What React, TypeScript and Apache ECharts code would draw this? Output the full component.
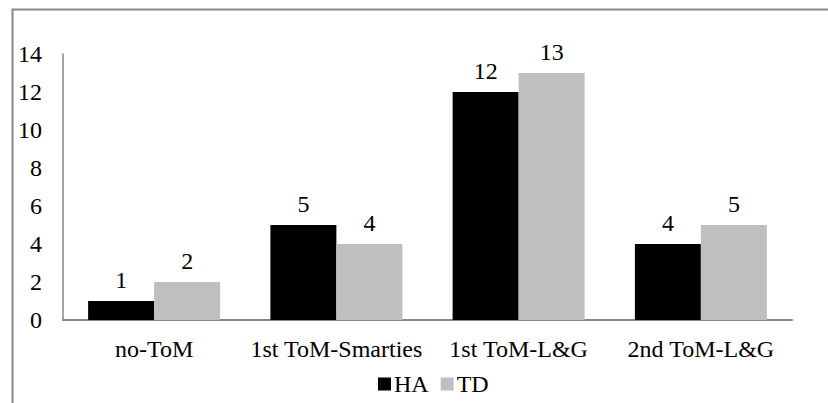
import React, { useEffect, useRef } from "react";
import * as echarts from "echarts";

const categories = ["no-ToM", "1st ToM-Smarties", "1st ToM-L&G", "2nd ToM-L&G"];
const haValues = [1, 5, 12, 4];
const tdValues = [2, 4, 13, 5];
const seriesNames = ["HA", "TD"];

const FONT = "'Liberation Serif', 'Times New Roman', serif";
const FS = 24;

export default function App() {
  const ref = useRef<HTMLDivElement>(null);
  useEffect(() => {
    document.body.style.margin = "0";
    const chart = echarts.init(ref.current!, null, { renderer: "svg" });
    chart.setOption({
      animation: false,
      backgroundColor: "#ffffff",
      textStyle: { fontFamily: FONT },
      graphic: [
        {
          type: "rect",
          shape: { x: 12.5, y: 9.5, width: 900, height: 500 },
          style: { fill: "none", stroke: "#878787", lineWidth: 2 },
          silent: true,
          z: -1,
        },
      ],
      grid: { left: 63, right: 36, top: 54, bottom: 83, containLabel: false },
      legend: {
        data: seriesNames,
        bottom: 2,
        left: 373,
        icon: "rect",
        itemWidth: 13,
        itemHeight: 13,
        itemGap: 12,
        textStyle: { fontFamily: FONT, fontSize: FS, color: "#000", padding: [0, 0, 0, -2] },
        selectedMode: false,
      },
      xAxis: {
        type: "category",
        data: categories,
        axisLine: { show: true, lineStyle: { color: "#878787", width: 2 } },
        axisTick: { show: false },
        axisLabel: { fontFamily: FONT, fontSize: FS, color: "#000", margin: 17, interval: 0 },
      },
      yAxis: {
        type: "value",
        min: 0,
        max: 14,
        interval: 2,
        axisLine: { show: true, lineStyle: { color: "#878787", width: 1.5 } },
        axisTick: { show: false },
        splitLine: { show: false },
        axisLabel: { fontFamily: FONT, fontSize: FS, color: "#000", margin: 21 },
      },
      series: [
        {
          name: seriesNames[0],
          type: "bar",
          data: haValues,
          barWidth: 66,
          barGap: "0%",
          itemStyle: { color: "#000000" },
          label: { show: true, position: "top", distance: 9, fontFamily: FONT, fontSize: FS, color: "#000" },
        },
        {
          name: seriesNames[1],
          type: "bar",
          data: tdValues,
          barWidth: 66,
          barGap: "0%",
          itemStyle: { color: "#bfbfbf" },
          label: { show: true, position: "top", distance: 9, fontFamily: FONT, fontSize: FS, color: "#000" },
        },
      ],
    });
    return () => chart.dispose();
  }, []);
  return <div ref={ref} style={{ width: 828, height: 403 }} />;
}
